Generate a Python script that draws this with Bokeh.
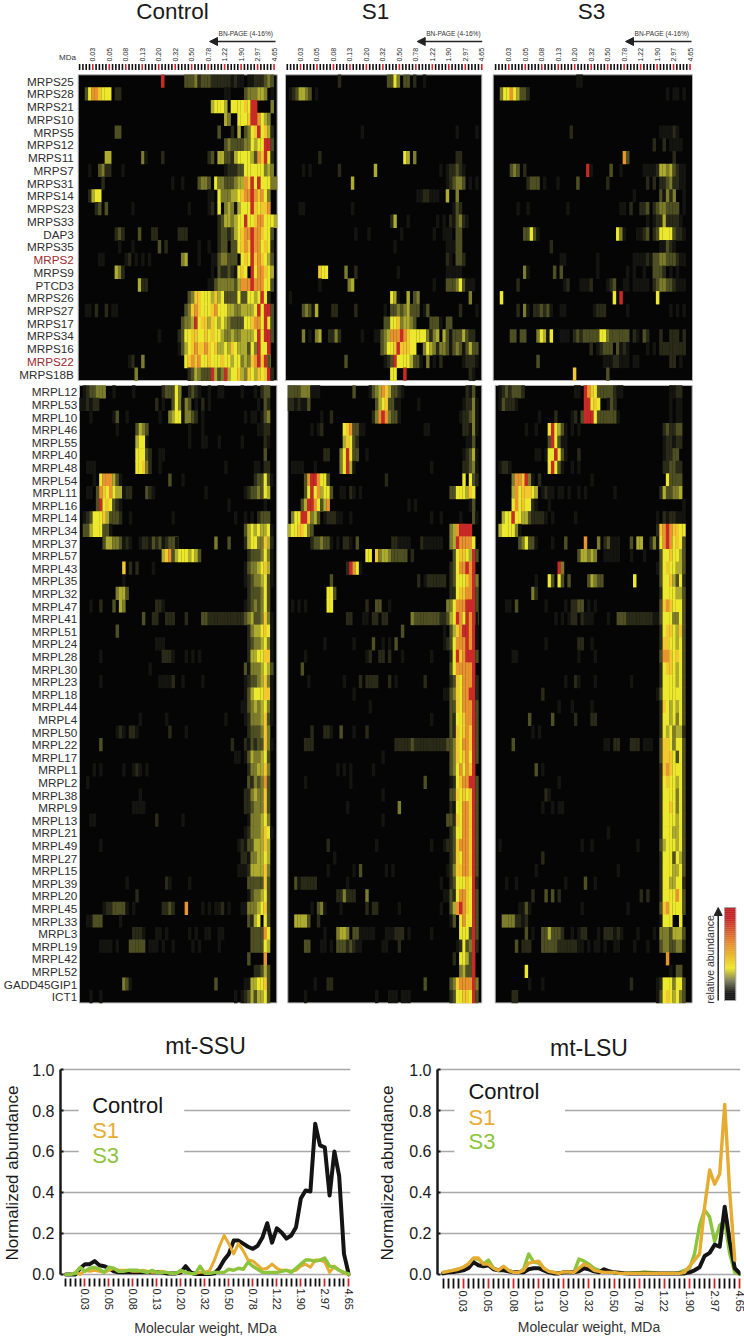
from math import pi
import numpy as np
from bokeh.embed import file_html
from bokeh.layouts import column, row
from bokeh.models import Arrow, FixedTicker, NormalHead, NumeralTickFormatter, Range1d, Title
from bokeh.plotting import figure
from bokeh.core.properties import value
from bokeh.resources import INLINE

FONT = "Liberation Sans"
ssu_names = ["MRPS25","MRPS28","MRPS21","MRPS10","MRPS5","MRPS12","MRPS11","MRPS7","MRPS31","MRPS14","MRPS23","MRPS33","DAP3","MRPS35","MRPS2","MRPS9","PTCD3","MRPS26","MRPS27","MRPS17","MRPS34","MRPS16","MRPS22","MRPS18B"]
lsu_names = ["MRPL12","MRPL53","MRPL10","MRPL46","MRPL55","MRPL40","MRPL48","MRPL54","MRPL11","MRPL16","MRPL14","MRPL34","MRPL37","MRPL57","MRPL43","MRPL35","MRPL32","MRPL47","MRPL41","MRPL51","MRPL24","MRPL28","MRPL30","MRPL23","MRPL18","MRPL44","MRPL4","MRPL50","MRPL22","MRPL17","MRPL1","MRPL2","MRPL38","MRPL9","MRPL13","MRPL21","MRPL49","MRPL27","MRPL15","MRPL39","MRPL20","MRPL45","MRPL33","MRPL3","MRPL19","MRPL42","MRPL52","GADD45GIP1","ICT1"]
red_names = ["MRPS2","MRPS22"]
mass_labels = ["0.03","0.05","0.08","0.13","0.20","0.32","0.50","0.78","1.22","1.90","2.97","4.65"]

# Each row: "first_column:levels" runs, level 0-9 on the abundance colour ramp.
ctrl_ssu = [
"25:9 32:333423332222221211011222343",
"2:36887666 11:22 44:11 50:3444554 58:1",
"40:56665 46:666676 52:99 58:4",
"44:54 48:6667 52:9986 56:54",
"11:33 42:3 46:2 48:5 50:34 52:6 53:79 55:675 58:2",
"44:343333446566993",
"8:55 19:41 25:2 39:23 42:55332 47:566665387962",
"3:1 6:3422 13:1 44:122233 50:66666 55:6 56:454",
"7:2 28:1 31:1 36:3443 41:6443334 48:55 50:87 52:9696 56:6644",
"3:2566 39:11 42:644455 47:5678898786 57:4",
"5:23 8:3 16:1 33:1 39:12 42:6 44:454 47:1 48:5666 52:9 53:76778",
"42:23554566 50:9 51:667886 57:665",
"11:232 18:3 22:22 30:222 42:23323 47:5 48:678 51:8 52:9 53:88 55:7 56:663",
"12:1 16:1 24:3 26:2 36:1 39:1 42:233 46:33 48:6 49:787 52:9 53:88 55:6 56:762",
"6:11 14:12 17:1 19:1 21:1 31:45 36:1 40:11 42:34 44:4 45:333 49:676 52:9 53:7876 57:53",
"11:542 40:1 42:322 45:3 46:21 48:6 49:76 52:9 53:68876 58:5",
"18:522 39:11 41:3444443 48:5888 52:9 53:8886 57:63",
"33:3477666 40:5756 44:3333 48:6 49:33 51:665 54:6 55:9 56:62",
"2:11 5:2 8:2 10:11 32:3478766678666554455556969 57:93",
"31:34459 36:67757 41:6565 45:433336678869 57:63",
"24:1 30:2 31:366776 37:67 39:6766 43:5445445 50:5 51:55699 55:6 56:993",
"30:13 32:5678778 39:7675 43:5657 47:655 50:536 53:4 54:9 55:669",
"15:12 19:4 32:678786 38:6 39:7666 43:7665 47:664 50:5 51:478 54:9796 57:3",
"17:4 33:2354 37:333 40:953 43:4 44:9566 48:7547 52:65 54:7 55:6 56:79 58:2",
]
s1_ssu = [
"16:2 31:33 33:64 36:33 39:2 42:1",
"1:1235543 9:1",
"",
"",
"23:1 52:1 58:1",
"",
"10:2 36:65 39:4 52:22",
"5:1 7:1 16:2 27:5 47:1 49:122321",
"20:5 49:123443 56:1 58:1",
"40:1122111 49:5 52:4",
"4:11 20:1 51:132",
"32:25 37:1 46:1 48:1 50:21 52:3421",
"21:1 25:1 35:1 45:1 48:111 52:33",
"33:1 49:111 52:33",
"49:21 52:332",
"10:766 18:4 21:2 34:1 49:11111",
"10:1 19:45 45:1 49:3334631 56:11",
"1:1 32:651 37:5 39:34 56:4",
"5:34315 14:22 21:2 30:1 32:334345333 42:1 43:3 53:2 58:1",
"30:3366745543 44:3331 49:33",
"5:4 7:1 9:45 13:2242 23:1 27:11345888987666664245 48:5313335322",
"29:34667977766 42:4654 46:2443 50:1343 54:1 55:3533",
"18:3 30:12396 35:66653 40:31 43:4 45:1 47:2 54:12221",
"32:66 36:9 56:21",
]
s3_ssu = [
"25:11",
"2:466865332 52:1 54:11 57:1",
"",
"",
"23:2 50:111121",
"48:2 51:2 53:1111",
"39:83 54:2",
"5:343 9:2 28:91 35:3 38:1 45:11112 50:5545 54:3211",
"10:2333 15:1 19:1 25:3 34:2 46:2 48:2 50:2234221 57:1",
"42:1 50:3 51:1 52:454 53:2 57:1",
"7:1 10:1 22:1 38:11 41:2 44:223 48:2344 52:3333 57:1",
"46:1 48:1225 52:22221",
"9:33631 37:641 43:1123 48:236666 54:322 57:1",
"17:2 50:11321",
"20:11 31:1 42:111121 48:33443332 56:11",
"9:41 18:3 20:3 31:1 40:1 42:1 45:1 48:3332 53:1 55:1",
"7:2 21:12 26:1112 34:123 39:11 42:11111 48:23443321 56:11",
"2:6 36:6 38:9 49:6",
"7:2 9:41 12:223231 20:11 30:1222 40:1 53:1 55:1 57:1",
"",
"5:33 8:33 13:46516 20:111 24:232333 30:3366433 37:3333 42:21 45:32 50:2 53:222 57:2",
"29:2 31:12333 37:312 40:1 46:1 48:1 50:22222222",
"13:3 33:111 36:22 38:11 40:1 42:11 53:22 56:1",
"24:7 34:3",
]
ctrl_lsu = [
"1:1233444 10:1 16:1 25:2333 29:6 30:4 33:2321 39:1 42:11 49:1 53:1 55:233",
"0:112122 23:2 25:1 28:3641 32:43 35:1 37:2 39:1 54:1 56:32",
"3:1 10:13 14:1 24:1 27:456614 33:432 37:1 50:1 52:11 55:134",
"11:1 17:3543 33:1 37:1 54:11 56:22",
"17:5661 33:1 37:11 42:1 49:1 56:21",
"17:66632 24:11 56:3",
"2:111 17:66742 24:1 44:1 53:11 56:22",
"4:1 6:6888531 27:3 31:1 53:233 56:631",
"2:11 5:3876865 12:5 13:122 20:321 38:1 50:12334 55:3 56:65",
"5:396763 11:21 45:1 56:1",
"1:123666 7:7 8:53332 15:1 28:1 47:1 50:1 52:1 54:2333",
"1:335666 7:331 50:356 53:56556 58:1",
"7:35544 12:3121 18:122 21:1323 25:12335 29:1 41:4 45:3 50:2566 54:44752",
"25:578 28:35666565 36:3 51:2333 55:4641",
"13:7 15:2 17:2 22:1 50:1344 54:56751",
"13:1 50:12344 55:5631",
"11:4553 51:233 54:3 55:463",
"3:1 6:2 10:3 12:54 23:221 50:12343 55:463",
"19:3 22:22 26:222 32:2 37:3322222222222 50:3453 54:34741",
"11:3 51:245 54:56761",
"23:111 51:234 54:45641",
"6:1 25:2221 32:1 34:1 36:1 51:255 54:66771",
"21:1 50:31444 55:5653",
"6:1 24:11112 31:1 37:1 50:123 53:3 54:45741",
"50:135 53:6667 57:71",
"49:11345 54:45641",
"18:1 26:1 44:1 50:124 53:4 54:45731",
"11:121 15:221 27:2 32:1 51:233 54:3 55:474",
"6:3 46:2 50:213 53:2 54:33 56:741",
"47:11 50:135 53:4 54:4 55:5 56:63",
"4:1 6:1 13:1 16:121 20:1 51:2445 55:5 56:74",
"2:1 51:3243 55:4 56:83",
"18:1 50:22 52:4 53:5 54:44 56:73",
"16:1111 50:223 53:4 54:44 56:73",
"3:11 23:2 31:1 51:144 54:4 55:5 56:64",
"50:124 53:4 54:45 56:76 58:1",
"6:1 48:121 51:33 53:555 56:75",
"49:221 52:44 54:55 56:65",
"48:111 51:255 54:55 56:74",
"14:1 26:21 33:1 51:333 54:33 56:73",
"17:2 51:13 53:4 54:45 56:63",
"7:12233 12:331 16:1 25:2232 32:8 37:1 39:1 41:112 45:1 49:11 51:444 54:5673",
"2:11333 12:1 51:3 52:2 53:56 56:63",
"16:2221 23:11 26:1 33:1 35:1 38:11 42:11 52:3333 56:86",
"6:1111 11:1 15:33333 21:111 25:1 28:1 34:1 36:1 42:1 52:3333 56:65",
"51:3 56:8",
"53:22 55:353",
"13:431 41:3 50:11 52:5566 56:73",
"3:1 6:1 47:1 49:123 52:53556 57:3",
]
s1_lsu = [
"0:3333444 7:111 20:3 25:1345 29:875 32:3321 55:213",
"0:2212113 27:3567 31:3311 40:1 54:12241",
"10:1 13:2 26:2489 30:84331 53:12234 58:1",
"7:1 9:12 17:678 20:3311 42:11 54:22141",
"17:576 20:32 55:113",
"11:22 16:46963 21:3 24:1 54:12351",
"1:1111 8:1 16:46951 44:1 54:22341",
"5:3899866 12:3 30:2 54:6 56:632",
"5:36968 10:5663 16:11 19:21 22:1 50:3366 54:6 55:576",
"4:3599 8:8 9:635 12:8 37:1 39:1 56:13",
"1:46699 6:74 8:53 11:1222 15:11 19:1 44:1 47:1 53:1 57:31",
"0:56677 5:643 50:45899 54:999",
"7:23343 12:31 15:1 17:221 21:3 32:221111 41:211111 47:1 50:459 53:8888 57:6",
"24:66 27:74554 32:33333 38:2 51:367 54:7659 58:3",
"18:2986 22:1 50:236 53:889 56:89",
"13:3 40:2 42:122222 48:2 50:236 53:66 55:7894",
"12:663 50:22677 55:88 57:93",
"1:1 3:1 5:1 12:66 24:2 27:33 31:1 49:4468889 56:99 58:3",
"18:22 23:11 26:22 29:22 38:433333333 47:22356 52:986 55:9896 58:1",
"35:3 48:103 51:57 53:8998 57:91",
"11:1 20:1 26:3 29:1 31:1 33:3 48:123 51:68 53:8 54:8 55:98 57:91",
"5:1 24:12 28:22 31:2 35:1 44:1 50:2697 54:8 55:999 58:3",
"4:3 50:36888 55:88 57:9",
"6:1 17:1 22:2 24:2222 31:2 33:1 42:2 50:23 52:76 54:888 57:92",
"20:1 48:113 51:47 53:6 54:889 57:92",
"25:1 50:33 52:76 54:888 57:93",
"44:1 50:32667 55:88 57:93",
"7:2 11:221 16:3 20:1 24:2 50:32767 55:87 57:93",
"5:222 33:22222322222 44:22222 49:334 52:76 54:887 57:93",
"29:1 50:347 53:67 55:86 57:93",
"15:1 17:1 19:1 26:1 50:346 53:86 55:87 57:9",
"5:1 19:1 42:3 50:126 53:78 55:89 57:93",
"29:1 50:337 53:67 55:67 57:93",
"18:1 34:4 50:216 53:68 55:87 57:93",
"29:1 49:332 52:76 54:88 56:793",
"50:23 52:668 55:87 57:93",
"12:2 27:1 44:1 48:1223 52:788 55:87 57:93",
"14:1 50:237 53:68 55:87 57:93",
"12:1 20:1 22:3 30:1 32:1 49:124 52:778 55:87 57:93",
"2:3122222 18:1 47:1 50:23 52:666 55:76 57:92",
"15:224222 24:4 48:11 50:3268 54:876 57:93",
"7:1 9:341 16:1 24:2 26:22 34:1 47:1 50:35 52:898 55:76 57:93",
"2:55553 9:2 50:13 53:68 55:66 57:93",
"11:1 15:455 18:4 20:33 22:11111 30:1112 34:22 37:1 44:1 53:666 56:393",
"5:33 10:11 13:1 15:33323211 29:11 34:2 52:126 55:34 57:92",
"51:2 53:66 55:53 57:9",
"53:45 55:33 57:9",
"8:1 12:22 42:3 50:347 53:888 56:8 57:94",
"5:1 27:1 31:111 35:111 50:236 53:6 54:77 56:6 57:93",
]
s3_lsu = [
"1:12323332 24:11 27:98763 32:3333 36:21 38:1 53:11 55:22",
"1:13222 6:1 27:99676 33:0 34:1 35:32 53:1 55:11",
"13:1 18:2 23:12 26:3999 30:6333333 37:1 53:1 55:11",
"9:1 12:1 16:696 19:531 23:1 25:1 51:23223 56:3",
"16:3963 20:1 21:1 51:12212 56:2",
"12:11 15:1 16:6696 20:31 25:2 51:12233",
"1:1221 16:6963 20:1 23:1 25:1 51:2233 55:22",
"5:488794 11:1 13:2 29:1 52:63333",
"5:586777 11:65 14:1211 19:11 22:1 25:1 27:1 36:1 50:2533 54:445",
"5:686766 11:21 16:1 57:1",
"2:5669 6:6 7:65532 12:222 15:1 17:1 24:1 49:1 51:212211 57:1",
"1:56666 6:41 49:278 52:98 54:7766",
"7:34 9:6331 17:1 21:3 27:8 31:4 33:23 35:111 41:3 43:55 47:24 49:168 52:986 55:763",
"25:35545 30:4 33:11111 41:1 45:1 50:366 53:76 55:653",
"19:94 49:136 52:76 54:6553",
"12:1 16:63 19:63 22:3 28:35433 42:6 50:366 53:7 54:5 55:362",
"11:42 50:2666 54:6553",
"3:11 6:3 15:1 21:1 23:22 25:33 28:1 30:1 50:378 53:7 54:6663",
"18:1 20:1 22:122 26:211 29:1 34:1 37:3332222 44:2222 48:113 51:666 54:4463",
"50:2677 54:6573",
"15:1 25:22 29:1 50:277 53:6 54:6563",
"5:11 25:1 30:1 50:388 53:7 54:6763",
"50:267 53:76 55:563",
"21:1 24:21 30:1 41:1 50:266 53:66 55:563",
"14:2 49:13 51:666 54:6663",
"19:1 23:1 29:1 50:27 52:65 54:6563",
"10:3 17:3 24:2 29:22 50:26 52:65 54:6463",
"11:1 13:1 50:2 51:65 53:6 54:45 56:52",
"5:3 33:11 36:22 41:222 45:111 50:37 52:76 54:4663",
"50:37 52:77 54:6363",
"12:3 14:1 50:27 52:87 54:6663",
"19:1 50:267 53:6 54:6563",
"15:21 50:26 52:66 54:6463",
"14:1 17:1 19:11 50:26 52:67 54:6463",
"50:26 52:66 54:6563",
"34:1 50:26 52:66 54:5563",
"1:1 26:1 29:1 43:1 50:35 52:66 54:6563",
"14:2 50:26 52:66 54:3653",
"12:1 37:1 50:26 52:66 54:5563",
"3:1 6:1 21:1 27:3 30:1 50:26 52:65 54:5662",
"11:2 15:3 17:3 19:2 44:2 46:2 50:26 52:66 54:6863",
"7:11 9:31 26:1 40:1 50:37 52:86 54:6663",
"2:44442 7:21 9:2 50:16 52:66 56:6",
"9:3 11:1 14:33533 19:32 23:1 25:1 26:22 31:1 33:2221 37:21 43:1 48:1 50:444 53:3 54:5553",
"6:3 8:222 14:33333 19:22222 24:2 25:11 28:1 30:11 33:1 36:11 42:1 46:1 50:344 53:33 55:442",
"52:8",
"9:6 53:1 55:33",
"10:1 14:1 41:2 49:12 51:66 53:6 54:46 56:63",
"5:22 49:13 51:67 53:6 54:56 56:43",
]

ssu_control = [0,0,0,.03,.05,.05,.065,.045,.04,.03,.015,.01,.01,.01,.01,.01,.01,.01,.01,.01,.01,.005,.005,.005,.01,.04,.01,.002,.003,.002,.002,.005,.03,.07,.10,.165,.165,.15,.135,.125,.14,.18,.25,.155,.225,.205,.175,.19,.23,.37,.41,.405,.735,.63,.62,.385,.60,.48,.10,0]
ssu_s1 = [0,0,.01,0,.02,.015,.02,.015,.01,.02,.03,.02,.02,.02,.015,.015,.02,.015,.01,.01,.015,.01,.005,.005,.015,.01,.005,.005,.01,.01,.02,.07,.135,.19,.15,.10,.15,.115,.07,.065,.045,.025,.03,.05,.03,.02,.02,.015,.02,.04,.05,.035,.07,.07,.06,.01,.04,.02,.005,0]
ssu_s3 = [0,0,.005,.035,.015,.03,.035,.025,.01,.035,.03,.015,.015,.02,.02,.02,.015,.01,.02,.01,.01,.01,.005,.005,.02,.01,.005,.003,.04,.005,.005,.01,.01,.01,.025,.02,.03,.025,.06,.04,.025,.01,.01,.01,.01,.015,.02,.01,.03,.05,.07,.07,.065,.07,.08,.04,.035,.02,.01,.003]
lsu_control = [.005,.01,.012,.015,.02,.03,.06,.045,.04,.045,.025,.02,.02,.015,.01,.01,.01,.025,.03,.03,.02,.01,.005,.005,.01,.01,.01,.015,.03,.025,.015,.01,.025,.015,.01,.008,.006,.005,.005,.005,.005,.005,.005,.005,.005,.005,.005,.005,.005,.01,.02,.035,.09,.105,.145,.135,.33,.16,.03,.005]
lsu_s1 = [.01,.015,.02,.025,.035,.05,.08,.08,.05,.05,.03,.02,.04,.02,.01,.01,.02,.055,.06,.065,.03,.015,.01,.005,.012,.012,.01,.03,.05,.04,.02,.015,.01,.01,.01,.005,.005,.005,.005,.005,.005,.005,.005,.005,.005,.005,.005,.005,.01,.04,.07,.10,.33,.51,.44,.49,.83,.40,.07]
lsu_s3 = [.01,.015,.02,.025,.035,.05,.075,.075,.05,.07,.03,.02,.035,.02,.01,.01,.025,.10,.06,.055,.03,.015,.01,.005,.012,.012,.01,.075,.065,.05,.03,.02,.012,.01,.008,.005,.005,.005,.008,.008,.012,.01,.008,.005,.005,.005,.005,.01,.02,.03,.10,.24,.315,.28,.16,.24,.26,.10,.01,0]

level_colors = ["#050505","#141410","#2a2a18","#4f4f24","#7c7c2c","#adab30","#ece82e","#f3c82f","#e8942f","#c92a27"]
BLACK, ORANGE, GREEN, TICK_RED = "#141414", "#e6ac32", "#8cc43c", "#d2232a"
TEXT = "#2e2e2e"
N_COLS = 60


def cells(rows):
    xs, ys, cs = [], [], []
    for r, spec in enumerate(rows):
        for run in spec.split():
            start, levels = run.split(":")
            for i, ch in enumerate(levels):
                col = int(start) + i
                if ch != "0" and col < N_COLS:
                    xs.append(col + 0.5)
                    ys.append(r + 0.5)
                    cs.append(level_colors[int(ch)])
    return xs, ys, cs


PAGE_L, PAGE_R, PAGE_T, PAGE_B = 0, 744, 0, 1020
p = figure(width=PAGE_R - PAGE_L, height=PAGE_B - PAGE_T, x_range=(PAGE_L, PAGE_R), y_range=(PAGE_B, PAGE_T),
           output_backend="svg", toolbar_location=None, min_border=0, outline_line_color=None, x_axis_location=None, y_axis_location=None)
p.xgrid.visible = False
p.ygrid.visible = False


def x_scale(name, origin, per_unit):
    p.extra_x_ranges[name] = Range1d((PAGE_L - origin) / per_unit, (PAGE_R - origin) / per_unit)


def y_scale(name, origin, per_unit):
    p.extra_y_ranges[name] = Range1d((PAGE_B - origin) / per_unit, (PAGE_T - origin) / per_unit)


y_scale("ssu", 74.3, 12.74)
y_scale("lsu", 385.0, 12.6)

panels = [
    ("Control", 172, [(ctrl_ssu, 77.7, 276.7), (ctrl_lsu, 79.0, 276.3)], 79.1, (218, 272.7), (275, 209)),
    ("S1", 375, [(s1_ssu, 285.0, 481.3), (s1_lsu, 287.3, 481.3)], 286.8, (425.7, 479), (481.7, 416.7)),
    ("S3", 591, [(s3_ssu, 492.7, 692.0), (s3_lsu, 494.7, 691.7)], 495.1, (634, 689), (691, 625)),
]

for title, title_x, blocks, tick0, bn, arrow in panels:
    p.text(x=[title_x], y=[10.5], text=[title], text_font=value(FONT), text_font_size="22.5px", text_color="#1a1a1a",
           text_align="center", text_baseline="middle")
    p.text(x=[bn[0]], y=[32.5], text=["BN-PAGE (4-16%)"], text_font=value(FONT), text_font_size="6.6px", text_color="#333333",
           text_align="left", text_baseline="middle")
    p.add_layout(Arrow(end=NormalHead(size=8, fill_color="#222222", line_color="#222222"), x_start=arrow[0], y_start=41,
                       x_end=arrow[1], y_end=41, line_width=1.5, line_color="#222222"))
    tick_name = "ticks" + title
    x_scale(tick_name, tick0, 3.296)
    idx = list(range(N_COLS))
    p.segment(x0=idx, x1=idx, y0=[63.5] * N_COLS, y1=[69.5] * N_COLS, x_range_name=tick_name, line_width=1.6,
              line_color=[TICK_RED if i % 5 == 4 else "#111111" for i in idx])
    major = [i for i in idx if i % 5 == 4]
    p.text(x=major, y=[61] * len(major), text=mass_labels, x_range_name=tick_name, angle=pi / 2, text_font=value(FONT),
           text_font_size="7px", text_color="#222222", text_align="left", text_baseline="middle")
    for (rows, left, right), yname in zip(blocks, ("ssu", "lsu")):
        xname = title + yname
        x_scale(xname, left, (right - left) / N_COLS)
        p.quad(left=[0], right=[N_COLS], top=[0], bottom=[len(rows)], x_range_name=xname, y_range_name=yname,
               fill_color=level_colors[0], line_color="#b4b4b4", line_width=1)
        xs, ys, cs = cells(rows)
        p.rect(x=xs, y=ys, width=1.05, height=1.05, x_range_name=xname, y_range_name=yname, fill_color=cs, line_color=None)

p.text(x=[75.5], y=[57], text=["MDa"], text_font=value(FONT), text_font_size="8px", text_color="#333333", text_align="right", text_baseline="middle")

for names, yname, right in ((ssu_names, "ssu", 73.3), (lsu_names, "lsu", 76.7)):
    ypos = [i + 0.5 for i in range(len(names))]
    cols = ["#9c2a30" if n in red_names else TEXT for n in names]
    p.text(x=[right] * len(names), y=ypos, text=names, y_range_name=yname, text_font=value(FONT), text_font_size="11.7px",
           text_color=cols, text_align="right", text_baseline="middle")

# colour-scale legend
stops_y = [0.0, 0.10, 0.38, 0.64, 0.78, 0.91, 1.0]
stops_rgb = np.array([[192, 31, 37], [196, 34, 38], [232, 144, 48], [240, 233, 48], [128, 128, 96], [26, 26, 26], [20, 20, 20]])
bar_y = np.linspace(907, 1000, 48)
fr = (bar_y[:-1] - 907) / 93
bar_cols = ["#%02x%02x%02x" % tuple(int(np.interp(f, stops_y, stops_rgb[:, c])) for c in range(3)) for f in fr]
p.quad(left=[724] * 47, right=[735.3] * 47, top=bar_y[:-1], bottom=bar_y[1:] + 0.3, fill_color=bar_cols, line_color=None)
p.quad(left=[724], right=[735.3], top=[907], bottom=[1000], fill_color=None, line_color="#a8a8a8", line_width=1)
p.add_layout(Arrow(end=NormalHead(size=8, fill_color="#222222", line_color="#222222"), x_start=717.7, y_start=1000, x_end=717.7,
                   y_end=907, line_width=1.5, line_color="#222222"))
p.text(x=[709], y=[959], text=["relative abundance"], angle=pi / 2, text_font=value(FONT), text_font_size="10.5px", text_color="#333333",
       text_align="center", text_baseline="middle")


def line_panel(width, bl, br, bt, bb, xr, yr, title, title_offset, title_standoff, legend_x, legend_y, tick_out,
               xlabel_offset, xlabel_standoff, ylabel_standoff, series):
    c = figure(width=width, height=321, x_range=xr, y_range=yr, output_backend="svg", toolbar_location=None,
               min_border_left=bl, min_border_right=br, min_border_top=bt, min_border_bottom=bb, outline_line_color=None)
    c.title.text = title
    c.title.align = "center"
    c.title.offset = title_offset
    c.title.standoff = title_standoff
    c.title.text_font = FONT
    c.title.text_font_style = "normal"
    c.title.text_font_size = "23px"
    c.title.text_color = "#1a1a1a"
    c.xgrid.visible = False
    c.ygrid.ticker = FixedTicker(ticks=[0, .2, .4, .6, .8, 1])
    c.ygrid.grid_line_color = "#a8a8a8"
    c.ygrid.grid_line_width = 1.5
    major = [i for i in range(N_COLS) if i % 5 == 4]
    minor = [i for i in range(N_COLS) if i % 5 != 4]
    xa = c.xaxis[0]
    xa.ticker = FixedTicker(ticks=major, minor_ticks=minor)
    xa.major_label_overrides = dict(zip(major, mass_labels))
    xa.major_label_orientation = "vertical"
    xa.major_label_text_font = FONT
    xa.major_label_text_font_size = "11px"
    xa.major_label_text_color = "#222222"
    xa.major_label_standoff = 2
    xa.axis_line_color = None
    xa.major_tick_in = 0
    xa.major_tick_out = tick_out
    xa.minor_tick_in = 0
    xa.minor_tick_out = tick_out
    xa.major_tick_line_color = TICK_RED
    xa.major_tick_line_width = 1.8
    xa.minor_tick_line_color = "#111111"
    xa.minor_tick_line_width = 1.8
    c.add_layout(Title(text="Molecular weight, MDa", align="center", offset=xlabel_offset, standoff=xlabel_standoff, text_font=FONT,
                       text_font_style="normal", text_font_size="14px", text_color="#333333"), "below")
    ya = c.yaxis[0]
    ya.ticker = FixedTicker(ticks=[0, .2, .4, .6, .8, 1])
    ya.formatter = NumeralTickFormatter(format="0.0")
    ya.bounds = (0, 1)
    ya.axis_line_color = "#1a1a1a"
    ya.axis_line_width = 2.5
    ya.major_tick_in = 3
    ya.major_tick_out = 0
    ya.major_tick_line_color = "#1a1a1a"
    ya.major_tick_line_width = 2
    ya.minor_tick_line_color = None
    ya.major_label_text_font = FONT
    ya.major_label_text_font_size = "16px"
    ya.major_label_text_color = "#1a1a1a"
    ya.major_label_standoff = 6
    ya.axis_label = "Normalized abundance"
    ya.axis_label_text_font = FONT
    ya.axis_label_text_font_style = "normal"
    ya.axis_label_text_font_size = "17px"
    ya.axis_label_text_color = "#1a1a1a"
    ya.axis_label_standoff = ylabel_standoff
    c.quad(left=[legend_x - 2.8], right=[legend_x + 19.2], top=[.85], bottom=[.55], fill_color="white", line_color=None)
    for values, color, lw in series:
        c.line(x=list(range(len(values))), y=values, line_color=color, line_width=lw, line_join="round", line_cap="round")
    for txt, yy, color in zip(["Control", "S1", "S3"], legend_y, [BLACK, ORANGE, GREEN]):
        c.text(x=[legend_x], y=[yy], text=[txt], text_font=value(FONT), text_font_size="22px", text_color=color,
               text_align="left", text_baseline="middle")
    return c


ssu_fig = line_panel(370, 58, 20, 47, 63, Range1d(-1.10, 59.36), Range1d(-0.02, 1.01), "mt-SSU", 12, 18, 5.5,
                     (.824, .702, .58), 8, 6.7, 10, 7, [(ssu_control, BLACK, 4), (ssu_s1, ORANGE, 3), (ssu_s3, GREEN, 3.4)])
lsu_fig = line_panel(374, 67, 4, 42, 59, Range1d(-1.13, 59.14), Range1d(-0.02, 1.01), "mt-LSU", -5, 13, 5.03,
                     (.893, .767, .65), 10, 0, 5, 9, [(lsu_s3, GREEN, 3.4), (lsu_control, BLACK, 4), (lsu_s1, ORANGE, 3.4)])

page = column(p, row(ssu_fig, lsu_fig, spacing=0), spacing=0)
open("out.html", "w").write(file_html(page, INLINE))
